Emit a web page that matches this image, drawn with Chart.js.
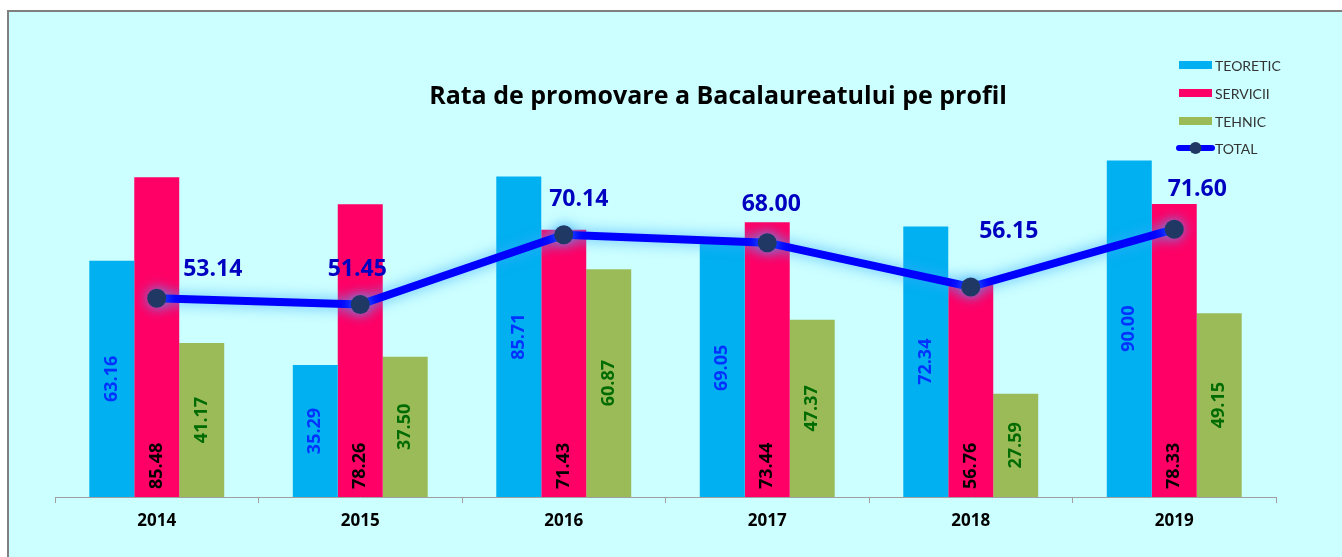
<!DOCTYPE html>
<html>
<head>
<meta charset="utf-8">
<script src="https://cdn.jsdelivr.net/npm/chart.js@4.4.1/dist/chart.umd.min.js"></script>
<style>
  html, body { margin: 0; padding: 0; background: #fff; }
  #wrap { width: 1342px; height: 557px; }
</style>
</head>
<body>
<div id="wrap"><canvas id="myChart" width="1342" height="557"></canvas></div>
<script>
// chart values
var years = ['2014', '2015', '2016', '2017', '2018', '2019'];
var teoretic = [63.16, 35.29, 85.71, 69.05, 72.34, 90.00];
var servicii = [85.48, 78.26, 71.43, 73.44, 56.76, 78.33];
var tehnic = [41.17, 37.50, 60.87, 47.37, 27.59, 49.15];
var total = [53.14, 51.45, 70.14, 68.00, 56.15, 71.60];

// where the TOTAL labels sit relative to their point (px)
var totalLabelOffsets = [[56, -29], [-3, -35], [15, -35], [4, -38], [38, -56], [23, -40]];

var FONT = 'Lato, "Open Sans", sans-serif';
var BOLD_FONT = '"Open Sans", Lato, sans-serif';

var framePlugin = {
  id: 'frame',
  beforeDraw: function (chart) {
    var ctx = chart.ctx;
    ctx.save();
    ctx.fillStyle = '#ffffff';
    ctx.fillRect(0, 0, chart.width, chart.height);
    ctx.fillStyle = '#CCFFFF';
    ctx.fillRect(7, 10, chart.width, chart.height);
    ctx.strokeStyle = '#808080';
    ctx.lineWidth = 2;
    ctx.beginPath();
    ctx.moveTo(8, chart.height);
    ctx.lineTo(8, 11);
    ctx.lineTo(chart.width, 11);
    ctx.stroke();
    ctx.restore();
  },
  afterDraw: function (chart) {
    var ctx = chart.ctx;
    ctx.save();
    // title
    ctx.fillStyle = '#000';
    ctx.font = 'bold 25px ' + BOLD_FONT;
    ctx.textAlign = 'center';
    ctx.textBaseline = 'middle';
    ctx.fillText('Rata de promovare a Bacalaureatului pe profil', 718, 97);

    // legend
    var items = [
      { text: 'TEORETIC', color: '#00B0F0', y: 65 },
      { text: 'SERVICII', color: '#FF0066', y: 93 },
      { text: 'TEHNIC', color: '#9BBB59', y: 121 },
      { text: 'TOTAL', color: '#0000FF', y: 148, line: true }
    ];
    ctx.font = '14px ' + FONT;
    ctx.textAlign = 'left';
    items.forEach(function (it) {
      if (it.line) {
        ctx.strokeStyle = it.color;
        ctx.lineWidth = 6;
        ctx.lineCap = 'round';
        ctx.beginPath();
        ctx.moveTo(1179, it.y);
        ctx.lineTo(1212, it.y);
        ctx.stroke();
        ctx.fillStyle = '#1F3864';
        ctx.beginPath();
        ctx.arc(1195.5, it.y, 6, 0, Math.PI * 2);
        ctx.fill();
      } else {
        ctx.fillStyle = it.color;
        ctx.fillRect(1179, it.y - 4, 33, 8);
      }
      ctx.fillStyle = '#333';
      ctx.fillText(it.text, 1215, it.y + 1);
    });
    ctx.restore();
  }
};

var glowPlugin = {
  id: 'glow',
  beforeDatasetDraw: function (chart, args) {
    if (chart.data.datasets[args.index].type !== 'line') return;
    var ctx = chart.ctx;
    ctx.save();
    ctx.shadowColor = 'rgba(60,170,255,0.85)';
    ctx.shadowBlur = 14;
  },
  afterDatasetDraw: function (chart, args) {
    if (chart.data.datasets[args.index].type !== 'line') return;
    chart.ctx.restore();
  }
};

var labelsPlugin = {
  id: 'valueLabels',
  afterDatasetsDraw: function (chart) {
    var ctx = chart.ctx;
    ctx.save();
    chart.data.datasets.forEach(function (ds, di) {
      var meta = chart.getDatasetMeta(di);
      meta.data.forEach(function (el, i) {
        var txt = ds.data[i].toFixed(2);
        if (ds.type === 'line') {
          var off = totalLabelOffsets[i];
          ctx.font = 'bold 23px ' + BOLD_FONT;
          ctx.fillStyle = '#0000C0';
          ctx.textAlign = 'center';
          ctx.textBaseline = 'middle';
          ctx.fillText(txt, el.x + off[0], el.y + off[1]);
          return;
        }
        ctx.save();
        ctx.font = 'bold 18px ' + BOLD_FONT;
        ctx.fillStyle = ds.labelColor;
        ctx.textBaseline = 'middle';
        if (ds.labelAtBase) {
          ctx.translate(el.x, el.base - 8);
          ctx.rotate(-Math.PI / 2);
          ctx.textAlign = 'left';
          ctx.fillText(txt, 0, 0);
        } else {
          ctx.translate(el.x, (el.y + el.base) / 2);
          ctx.rotate(-Math.PI / 2);
          ctx.textAlign = 'center';
          ctx.fillText(txt, 0, 0);
        }
        ctx.restore();
      });
    });
    ctx.restore();
  }
};

var ctx = document.getElementById('myChart').getContext('2d');
var myChart = new Chart(ctx, {
  type: 'bar',
  data: {
    labels: years,
    datasets: [{
      type: 'line',
      label: 'TOTAL',
      data: total,
      order: 0,
      borderColor: '#0000FF',
      borderWidth: 8,
      tension: 0,
      fill: false,
      pointRadius: 9.5,
      pointHoverRadius: 9.5,
      pointBorderWidth: 0,
      pointBackgroundColor: '#1F3864'
    }, {
      label: 'TEORETIC',
      data: teoretic,
      order: 1,
      backgroundColor: '#00B0F0',
      labelColor: '#0033FF'
    }, {
      label: 'SERVICII',
      data: servicii,
      order: 1,
      backgroundColor: '#FF0066',
      labelColor: '#000000',
      labelAtBase: true
    }, {
      label: 'TEHNIC',
      data: tehnic,
      order: 1,
      backgroundColor: '#9BBB59',
      labelColor: '#006B00'
    }]
  },
  options: {
    responsive: false,
    animation: false,
    layout: { padding: { left: 55, right: 66, top: 123, bottom: 0 } },
    datasets: {
      bar: { categoryPercentage: 0.663, barPercentage: 1.0, borderWidth: 0 }
    },
    plugins: {
      legend: { display: false },
      title: { display: false },
      tooltip: { enabled: false }
    },
    scales: {
      y: {
        display: false,
        min: 0,
        max: 100
      },
      x: {
        offset: true,
        grid: {
          display: true,
          offset: true,
          drawOnChartArea: false,
          drawTicks: true,
          tickLength: 6,
          color: '#A0A0A0'
        },
        border: { display: true, color: '#A0A0A0', width: 1 },
        ticks: {
          color: '#000',
          font: { family: BOLD_FONT, size: 17, weight: 'bold' },
          padding: 8
        },
        afterFit: function (scale) { scale.height = 60; }
      }
    }
  },
  plugins: [framePlugin, glowPlugin, labelsPlugin]
});
</script>
</body>
</html>
